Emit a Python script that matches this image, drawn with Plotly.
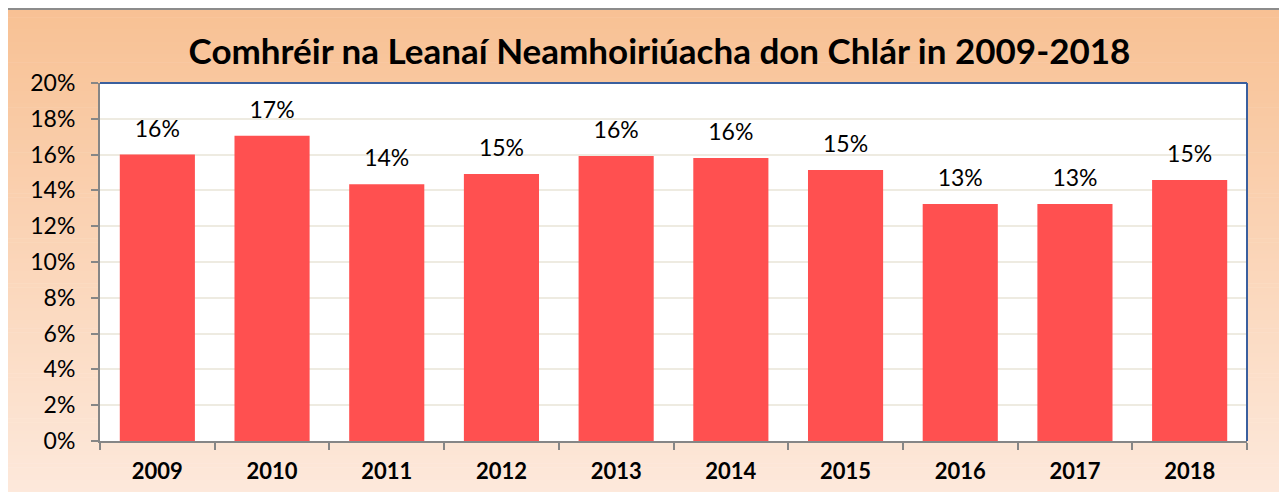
import plotly.graph_objects as go

years = ["2009", "2010", "2011", "2012", "2013", "2014", "2015", "2016", "2017", "2018"]
values = [16.0, 17.05, 14.35, 14.92, 15.92, 15.81, 15.14, 13.24, 13.24, 14.58]
labels = ["16%", "17%", "14%", "15%", "16%", "16%", "15%", "13%", "13%", "15%"]
y_ticks = [0, 2, 4, 6, 8, 10, 12, 14, 16, 18, 20]
title_text = "Comhréir na Leanaí Neamhoiriúacha don Chlár in 2009-2018"

OFF = 8  # default page body margin
W, H = 1287 - OFF, 492 - OFF
PL, PR, PT, PB = 100 - OFF, 1247 - OFF, 83 - OFF, 441 - OFF
FONT = "Lato"


def px_x(p):
    return (p - OFF - PL) / (PR - PL)


def px_y(p):
    return (PB - (p - OFF)) / (PB - PT)


fig = go.Figure()
fig.add_trace(go.Bar(
    x=years, y=values, marker=dict(color="#FF5050", line=dict(width=0)),
    hoverinfo="skip",
))
fig.add_trace(go.Scatter(
    x=years, y=values, text=labels, mode="markers+text", textposition="top center",
    marker=dict(size=18, opacity=0), hoverinfo="skip",
    textfont=dict(family=FONT, size=23, color="black"), cliponaxis=False,
))

shapes = []
# gradient background (outer chart area)
top_c = (248, 193, 148)
bot_c = (253, 233, 220)
y0p, y1p = 9, 500
n = 120
for i in range(n):
    a = y0p + (y1p - y0p) * i / n
    b = y0p + (y1p - y0p) * (i + 1) / n + 0.6
    t = i / (n - 1)
    c = tuple(round(top_c[k] + (bot_c[k] - top_c[k]) * t) for k in range(3))
    shapes.append(dict(type="rect", xref="paper", yref="paper",
                       x0=px_x(7), x1=px_x(1286), y0=px_y(b), y1=px_y(a),
                       fillcolor="rgb(%d,%d,%d)" % c, line=dict(width=0), layer="below"))
# white plot area
shapes.append(dict(type="rect", xref="paper", yref="paper", x0=0, x1=1, y0=0, y1=1,
                   fillcolor="white", line=dict(width=0), layer="below"))
# outer gray frame
shapes.append(dict(type="rect", xref="paper", yref="paper",
                   x0=px_x(7), x1=px_x(1286), y0=px_y(500), y1=px_y(9),
                   fillcolor="rgba(0,0,0,0)", line=dict(color="#8C8C8C", width=2), layer="above"))
# blue plot border top & right
shapes.append(dict(type="line", xref="paper", yref="paper", x0=0, x1=1, y0=1, y1=1,
                   line=dict(color="#3A5F9E", width=2), layer="above"))
shapes.append(dict(type="line", xref="paper", yref="paper", x0=1, x1=1, y0=0, y1=1,
                   line=dict(color="#3A5F9E", width=2), layer="above"))

fig.update_layout(
    width=W, height=H,
    margin=dict(l=PL, r=W - PR, t=PT, b=H - PB, pad=0),
    paper_bgcolor="white", plot_bgcolor="rgba(0,0,0,0)",
    showlegend=False, bargap=0.345,
    shapes=shapes,
    title=dict(text="<b>" + title_text + "</b>", xref="container", yref="container",
               x=(659.5 - OFF) / W, y=1 - (52 - OFF) / H, xanchor="center", yanchor="middle",
               font=dict(family=FONT, size=35, color="black")),
    xaxis=dict(
        type="category", range=[-0.5, len(years) - 0.5], automargin=False,
        showline=True, linecolor="#868686", linewidth=2,
        ticks="outside", tickson="boundaries", ticklen=7, tickcolor="#868686", tickwidth=2,
        tickfont=dict(family=FONT, size=22, color="black", weight="bold"),
        showgrid=False, ticklabelstandoff=10, tickangle=0,
    ),
    yaxis=dict(
        range=[0, 20], tickvals=y_ticks, ticktext=[f"{t}%" for t in y_ticks],
        automargin=False, showline=True, linecolor="#868686", linewidth=2,
        ticks="outside", ticklen=7, tickcolor="#868686", tickwidth=2,
        tickfont=dict(family=FONT, size=23, color="black"),
        showgrid=True, gridcolor="#EEEBE1", gridwidth=2, zeroline=False,
        ticklabelstandoff=11,
    ),
)

fig.write_html("out.html")
